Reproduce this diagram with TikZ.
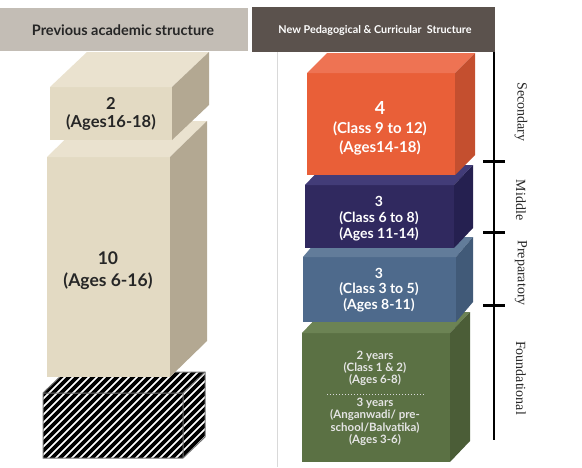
\documentclass[tikz,border=0pt]{standalone}
\usepackage{fontspec}
\setmainfont{Lato}
\newfontfamily\stagefont{Liberation Serif}
\definecolor{hdrgray}{HTML}{C3BDB5}
\definecolor{hdrdark}{HTML}{5B524D}
\definecolor{sandfront}{HTML}{E3DAC3}
\definecolor{sandtop}{HTML}{EAE2CF}
\definecolor{sandside}{HTML}{B3A892}
\definecolor{orgfront}{HTML}{E95F38}
\definecolor{orgtop}{HTML}{EE7353}
\definecolor{orgside}{HTML}{C44F2F}
\definecolor{indfront}{HTML}{30295F}
\definecolor{indtop}{HTML}{423C78}
\definecolor{indside}{HTML}{252050}
\definecolor{bluefront}{HTML}{4E6A8C}
\definecolor{bluetop}{HTML}{627C9A}
\definecolor{blueside}{HTML}{415A78}
\definecolor{grnfront}{HTML}{5B7144}
\definecolor{grntop}{HTML}{6C8354}
\definecolor{grnside}{HTML}{4B5D37}
% front x0 y0 x1 y1, depth dx dy, colours front/top/side
\newcommand\blockbox[9]{%
  \fill[#7] (#1,#2) rectangle (#3,#4);
  \fill[#8] (#1,#2) -- (#1+#5,#2-#6) -- (#3+#5,#2-#6) -- (#3,#2) -- cycle;
  \fill[#9] (#3,#2) -- (#3+#5,#2-#6) -- (#3+#5,#4-#6) -- (#3,#4) -- cycle;
}
\tikzset{
  boxtext/.style={align=center, inner sep=0pt},
  stagelabel/.style={rotate=-90, font=\stagefont\fontsize{14}{16}\selectfont, text=black!85},
}
\begin{document}
\begin{tikzpicture}[x=1pt, y=-1pt]
  \useasboundingbox (0,0) rectangle (582,467);
  \draw[black!15, line width=0.8] (277,52) -- (277,467);
  % old structure
  \begin{scope}
    \clip (43,458) -- (43,393) -- (65,372) -- (205,372) -- (205,437) -- (183,458) -- cycle;
    \fill[white] (40,360) rectangle (210,465);
    \foreach \s in {-80,-72,...,210}
      \draw[line width=3.6pt] (\s,470) -- ++(110,-110);
  \end{scope}
  \draw[black!55, line width=1] (43,458) -- (43,393) -- (65,372) -- (205,372) -- (205,437) -- (183,458) -- cycle;
  \draw[black!55, line width=1] (43,393) -- (183,393) -- (205,372) (183,393) -- (183,458);
  \blockbox{47}{157}{170}{377}{37}{36}{sandfront}{sandtop}{sandside}
  \blockbox{50}{87}{172}{140}{37}{35}{sandfront}{sandtop}{sandside}
  \node[boxtext, text=black!85, font=\bfseries\fontsize{16.5}{18}\selectfont] (old2) at (111,114)
    {2\\(Ages16-18)};
  \node[boxtext, text=black!85, font=\bfseries\fontsize{17.5}{22}\selectfont] (old10) at (108,271)
    {10\\(Ages 6-16)};
  % new structure
  \blockbox{302}{333}{450}{462}{20}{21}{grnfront}{grntop}{grnside}
  \blockbox{303}{257}{456}{322}{17}{20}{bluefront}{bluetop}{blueside}
  \blockbox{305}{185}{454}{248}{19}{20}{indfront}{indtop}{indside}
  \blockbox{307}{73}{455}{175}{20}{20}{orgfront}{orgtop}{orgside}
  \node[boxtext, text=white, font=\bfseries\fontsize{15}{19}\selectfont] (new4) at (380,128)
    {\fontsize{18}{19}\selectfont 4\\(Class 9 to 12)\\(Ages14-18)};
  \node[boxtext, text=white, font=\bfseries\fontsize{14}{16}\selectfont] (new3m) at (379,219)
    {3\\(Class 6 to 8)\\(Ages 11-14)};
  \node[boxtext, text=white, font=\bfseries\fontsize{14}{15.5}\selectfont] (new3p) at (379,290)
    {3\\(Class 3 to 5)\\(Ages 8-11)};
  \node[boxtext, text=white!90!black, font=\bfseries\fontsize{11.5}{12}\selectfont] (found2) at (375,368)
    {2 years\\(Class 1 \& 2)\\(Ages 6-8)};
  \coordinate (dotl) at (327,394);
  \coordinate (dotr) at (425,394);
  \draw[white!85!black, dotted, line width=1] (dotl) -- (dotr);
  \node[boxtext, text=white!90!black, font=\bfseries\fontsize{11.5}{12.4}\selectfont] (found3) at (375,422)
    {3 years\\(Anganwadi/ pre-\\school/Balvatika)\\(Ages 3-6)};
  % stage line
  \coordinate (tltop) at (494,52);
  \coordinate (tlbot) at (494,440);
  \draw[line width=2.4] (tltop) -- (tlbot);
  \foreach \t/\y in {tka/161, tkb/232, tkc/305} {
    \coordinate (\t) at (494,\y);
    \draw[line width=3] ([xshift=-11]\t) -- ([xshift=11]\t);
  }
  \node[stagelabel] (secondary) at (521,112) {Secondary};
  \node[stagelabel] (middle) at (521,200) {Middle};
  \node[stagelabel] (preparatory) at (521,273) {Preparatory};
  \node[stagelabel] (foundational) at (521,378) {Foundational};
  % headers
  \fill[hdrgray] (0,8) rectangle (248,51);
  \fill[hdrdark] (252,7) rectangle (495,52);
  \node[font=\bfseries\fontsize{14.5}{16}\selectfont, text=black!85] (hdrold) at (123,30)
    {Previous academic structure};
  \node[font=\bfseries\fontsize{10.8}{12}\selectfont, text=white] (hdrnew) at (375,30)
    {New Pedagogical \& Curricular\ \ Structure};
\end{tikzpicture}
\end{document}
